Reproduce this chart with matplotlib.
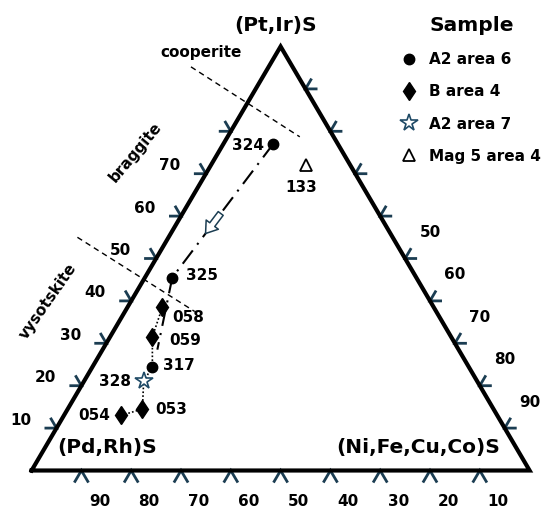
import numpy as np
import matplotlib
matplotlib.use("Agg")
import matplotlib.pyplot as plt

# analyses, % of (Pt,Ir)S / (Pd,Rh)S / (Ni,Fe,Cu,Co)S
labels = ['324', '325', '317', '058', '059', '053', '054', '328', '133']
groups = ['A2 area 6', 'A2 area 6', 'A2 area 6', 'B area 4', 'B area 4',
          'B area 4', 'B area 4', 'A2 area 7', 'Mag 5 area 4']
pt_ir = [77, 45.5, 24.5, 38.5, 31.5, 14.5, 13, 21, 72]
pd_rh = [13, 49, 63.5, 54.5, 60, 70.5, 75.5, 67, 9]
ni_fe = [10, 5.5, 12, 7, 8.5, 15, 11.5, 12, 19]

# dotted link between analyses
dotted_path = ['058', '059', '317', '328', '053', '054']

# dash-dot trend line
trend_pt = [77, 45.5, 28.5]
trend_pd = [13, 49, 60.5]
trend_ni = [10, 5.5, 11]
arrow_span = [0.52, 0.67]   # arrow on first trend segment (fraction)

# field boundaries (dashed)
b1_pt = [95.2, 78.7]
b1_pd = [20.4, 6.8]
b1_ni = [-15.6, 14.5]
b2_pt = [55.0, 37.5]
b2_pd = [63.3, 48.5]
b2_ni = [-18.3, 14.0]

left_ticks = [10, 20, 30, 40, 50, 60, 70, 80]
left_labels = [10, 20, 30, 40, 50, 60, 70]
right_ticks = [10, 20, 30, 40, 50, 60, 70, 80, 90]
right_labels = [50, 60, 70, 80, 90]
bottom_ticks = [90, 80, 70, 60, 50, 40, 30, 20, 10]

legend_order = ['A2 area 6', 'B area 4', 'A2 area 7', 'Mag 5 area 4']
styles = {
    'A2 area 6': dict(marker='o', ms=7.5, mfc='black', mec='black'),
    'B area 4': dict(marker='d', ms=9.5, mfc='black', mec='black'),
    'A2 area 7': dict(marker='*', ms=13, mfc='white', mec='#1f4a66', mew=1.2),
    'Mag 5 area 4': dict(marker='^', ms=9, mfc='white', mec='black', mew=1.3),
}
TEAL = '#1b3d52'

W, H = 550, 514
X0, XW = 31.6, 498.0     # base left px, base width px
YB, YH = 470.5, 424.0    # base px (from top), height px


def tern(pt, pd, ni):
    pt, pd, ni = (np.asarray(v, dtype=float) for v in (pt, pd, ni))
    s = pt + pd + ni
    t = pt / s
    return ni / s + t / 2, t


def px(x, y):
    return x / W, 1 - y / H


fig = plt.figure(figsize=(W / 100, H / 100), dpi=100)
ax = fig.add_axes([0, 0, 1, 1])
ax.set_xlim(-X0 / XW, (W - X0) / XW)
ax.set_ylim(-(H - YB) / YH, YB / YH)
ax.axis('off')

# frame
fx, fy = tern([0, 0, 100, 0], [100, 0, 0, 100], [0, 100, 0, 0])
ax.plot(fx, fy, color='black', lw=3, solid_joinstyle='miter', zorder=3)

# chevron ticks
sx, sy = 1 / XW, 1 / np.hypot(XW / 2, YH)   # px -> data along horizontal / edge dir
L = 12
tk = dict(color=TEAL, lw=2.0, zorder=2, solid_capstyle='butt', solid_joinstyle='miter')
for v in left_ticks:
    x, y = tern(v, 100 - v, 0)
    ax.plot([x - L * sx, x, x - 0.5 * L * sy], [y, y, y + L * sy], **tk)
for v in right_ticks:
    x, y = tern(100 - v, 0, v)
    ax.plot([x + L * sx, x, x + 0.5 * L * sy], [y, y, y + L * sy], **tk)
Lb = 14
for v in bottom_ticks:
    x, y = tern(0, v, 100 - v)
    ax.plot([x - 0.5 * Lb * sy, x, x + 0.5 * Lb * sy], [y - Lb * sy, y, y - Lb * sy], **tk)

tl = dict(fontsize=11, fontweight='bold', ha='center', va='center',
          textcoords='offset points')
k = 0.72
for v in left_labels:
    ax.annotate(str(v), tern(v, 100 - v, 0), xytext=(-36 * k, 8 * k), **tl)
for v in right_labels:
    ax.annotate(str(v), tern(100 - v, 0, v), xytext=(25 * k, 26 * k), **tl)
for v in bottom_ticks:
    ax.annotate(str(v), tern(0, v, 100 - v), xytext=(18 * k, -30.5 * k), **tl)

# boundaries
for bp, bd, bn in [(b1_pt, b1_pd, b1_ni), (b2_pt, b2_pd, b2_ni)]:
    bx, by = tern(bp, bd, bn)
    ax.plot(bx, by, color='black', lw=1.0, ls=(0, (4, 3)), zorder=2)

# trend line + arrow
tx, ty = tern(trend_pt, trend_pd, trend_ni)
ax.plot(tx, ty, color='black', lw=1.5, ls=(0, (8, 3.5, 1, 3.5)), zorder=4)
a0 = (tx[0] + arrow_span[0] * (tx[1] - tx[0]), ty[0] + arrow_span[0] * (ty[1] - ty[0]))
a1 = (tx[0] + arrow_span[1] * (tx[1] - tx[0]), ty[0] + arrow_span[1] * (ty[1] - ty[0]))
ax.annotate('', xy=a1, xytext=a0, zorder=6,
            arrowprops=dict(arrowstyle='simple,head_length=0.8,head_width=1.1,tail_width=0.45',
                            fc='white', ec=TEAL, lw=1.1, shrinkA=0, shrinkB=0,
                            mutation_scale=10))

# dotted link
idx = [labels.index(s) for s in dotted_path]
dx, dy = tern([pt_ir[i] for i in idx], [pd_rh[i] for i in idx], [ni_fe[i] for i in idx])
ax.plot(dx, dy, color='black', lw=1.2, ls=(0, (1, 1.3)), zorder=4)

# points
for g in legend_order:
    ii = [i for i, gg in enumerate(groups) if gg == g]
    gx, gy = tern([pt_ir[i] for i in ii], [pd_rh[i] for i in ii], [ni_fe[i] for i in ii])
    ax.plot(gx, gy, ls='none', label=g, zorder=5, **styles[g])

# point labels: offset px, ha
lab_off = {'324': (-9, 1, 'right'), '133': (-4.6, 22, 'center'), '325': (14, -2.5, 'left'),
           '058': (10.4, 10, 'left'), '059': (16.7, 3.3, 'left'), '317': (11, -0.7, 'left'),
           '328': (-13, 0, 'right'), '053': (13, 0.5, 'left'), '054': (-11, 0, 'right')}
for i, lab in enumerate(labels):
    ox, oy, ha = lab_off[lab]
    ax.annotate(lab, tern(pt_ir[i], pd_rh[i], ni_fe[i]), xytext=(ox * k, -oy * k),
                textcoords='offset points', ha=ha, va='center',
                fontsize=11, fontweight='bold', zorder=7)

# corner and field labels
big = dict(fontsize=14.5, fontweight='bold', ha='center', va='center')
fig.text(*px(275.3, 26), '(Pt,Ir)S', **big)
fig.text(*px(107, 448), '(Pd,Rh)S', **big)
fig.text(*px(418, 448), '(Ni,Fe,Cu,Co)S', **big)
fld = dict(fontsize=11, fontweight='bold', ha='center', va='center')
fig.text(*px(200.6, 52), 'cooperite', **fld)
fig.text(*px(135.7, 152), 'braggite', rotation=50, **fld)
fig.text(*px(48.4, 301.7), 'vysotskite', rotation=55, **fld)

leg = ax.legend(loc='upper left', bbox_to_anchor=px(388, 2), bbox_transform=fig.transFigure,
                frameon=False, title='Sample', prop={'weight': 'bold', 'size': 11},
                title_fontproperties={'weight': 'bold', 'size': 14.5},
                handlelength=1.0, handletextpad=0.8, labelspacing=1.13, borderpad=0.4)

fig.savefig('out.png', dpi=100)
